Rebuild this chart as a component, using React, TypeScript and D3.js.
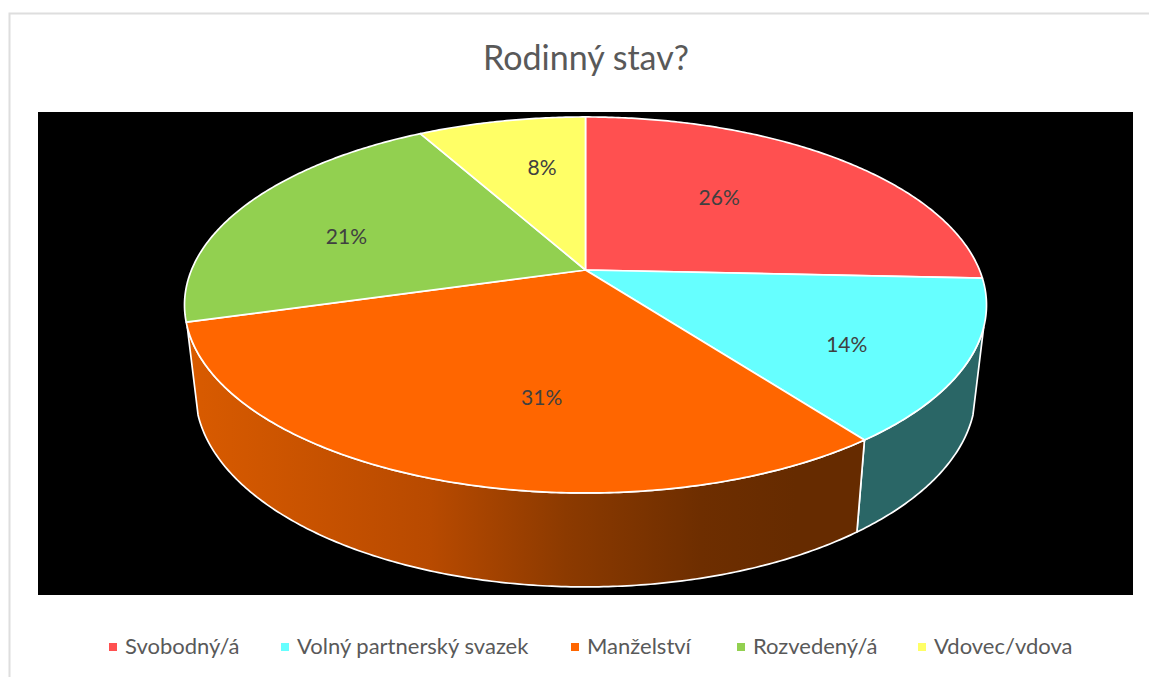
import React from "react";
import * as d3 from "d3";

const title = "Rodinný stav?";
const categories = ["Svobodný/á", "Volný partnerský svazek", "Manželství", "Rozvedený/á", "Vdovec/vdova"];
const shares = [25.7, 14, 30.9, 21.3, 8.1];
const topColors = ["#ff5050", "#66ffff", "#ff6600", "#92d050", "#ffff66"];
const sideColors = ["#663333", "#2a6666", "url(#sideOrange)", "#3a5420", "#666628"];
const legendSwatchX = [109, 281, 571, 737, 918];

const WIDTH = 1149;
const HEIGHT = 677;
const FONT = "Lato, 'Open Sans', sans-serif";

// the tilted disc is a circle seen in perspective, so the apex is not the ellipse centre
const CX = 585.5;
const APEX_Y = 270;
const RX = 394;
const RY = 181.5;
const K = -0.186;
const ELLIPSE_Y = 305;
const BOTTOM_Y = 392;
const BOTTOM_SX = 0.973;
const BOTTOM_SY = 1.037;
const SIDE_FROM = (107.3 / 180) * Math.PI;
const SIDE_TO = (252.7 / 180) * Math.PI;

// label offsets from the mid-angle spot, Excel places them on its own rules
const labelNudge = [[-15, -6], [56, 25], [34, 21], [-43, 4], [7, -13]];

type Pt = [number, number];

const project = (theta: number, rho = 1): Pt => {
	const X = rho * Math.sin(theta);
	const Y = -rho * Math.cos(theta);
	const d = 1 + K * Y;
	return [CX + (RX * X) / d, APEX_Y + (RY * Y) / d];
};

const lower = ([x, y]: Pt): Pt => [
	CX + BOTTOM_SX * (x - CX),
	BOTTOM_Y + BOTTOM_SY * (y - ELLIPSE_Y),
];

const arcPoints = (a: number, b: number): Pt[] => {
	const n = Math.max(2, Math.ceil(Math.abs(b - a) / 0.01));
	return d3.range(n + 1).map((i) => project(a + ((b - a) * i) / n));
};

const line = d3.line<Pt>();

export default function App() {
	const slices = d3.pie<number>().sort(null).startAngle(0).endAngle(2 * Math.PI)(shares);
	const pct = d3.format(".0f");

	return (
		<svg
			width={WIDTH}
			height={HEIGHT}
			style={{ position: "absolute", left: 0, top: 0, background: "#fff" }}
		>
			<defs>
				<linearGradient id="sideOrange" gradientUnits="userSpaceOnUse" x1={187} x2={863} y1={0} y2={0}>
					<stop offset="0" stopColor="#d95b00" />
					<stop offset="0.36" stopColor="#b84a00" />
					<stop offset="0.56" stopColor="#8c3a00" />
					<stop offset="0.76" stopColor="#6e2e00" />
					<stop offset="0.9" stopColor="#662b00" />
					<stop offset="1" stopColor="#662b00" />
				</linearGradient>
			</defs>

			<path d={`M9.5,${HEIGHT}V13.5H${WIDTH}`} fill="none" stroke="#dedede" strokeWidth={2} />
			<rect x={38} y={112} width={1095} height={483} fill="#000" />

			{/* side wall, only the part that faces the viewer */}
			{slices.map((s, i) => {
				const a = Math.max(s.startAngle, SIDE_FROM);
				const b = Math.min(s.endAngle, SIDE_TO);
				if (a >= b) return null;
				const top = arcPoints(a, b);
				const bottom = top.map(lower).reverse();
				return (
					<path
						key={categories[i]}
						d={line([...top, ...bottom]) + "Z"}
						fill={sideColors[i]}
						stroke="#fff"
						strokeWidth={1.7}
						strokeLinejoin="round"
					/>
				);
			})}

			{/* top face */}
			{slices.map((s, i) => (
				<path
					key={categories[i]}
					d={line([[CX, APEX_Y], ...arcPoints(s.startAngle, s.endAngle)]) + "Z"}
					fill={topColors[i]}
					stroke="#fff"
					strokeWidth={1.7}
					strokeLinejoin="round"
				/>
			))}

			{slices.map((s, i) => {
				const [x, y] = project((s.startAngle + s.endAngle) / 2, 0.56);
				return (
					<text
						key={categories[i]}
						x={x + labelNudge[i][0]}
						y={y + labelNudge[i][1] + 7}
						textAnchor="middle"
						fontFamily={FONT}
						fontSize={21}
						fill="#404040"
					>
						{pct(s.data)}%
					</text>
				);
			})}

			<text x={586} y={70} textAnchor="middle" fontFamily={FONT} fontSize={34} fill="#595959">
				{title}
			</text>

			{categories.map((c, i) => (
				<g key={c}>
					<rect x={legendSwatchX[i]} y={643} width={8} height={8} fill={topColors[i]} />
					<text x={legendSwatchX[i] + 16} y={654} fontFamily={FONT} fontSize={22} fill="#595959">
						{c}
					</text>
				</g>
			))}
		</svg>
	);
}
